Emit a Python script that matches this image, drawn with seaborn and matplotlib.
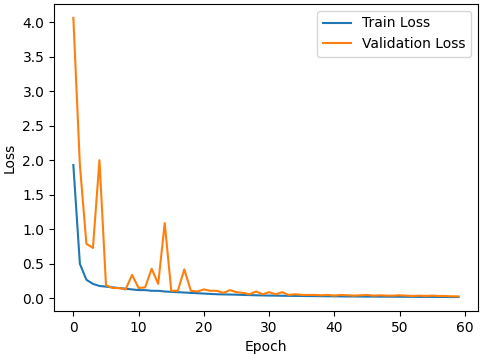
import numpy as np
import pandas as pd
import matplotlib
matplotlib.use("Agg")
import matplotlib.pyplot as plt
import seaborn as sns

epochs = list(range(60))
train_loss = [1.93, 0.50, 0.27, 0.21, 0.18, 0.17, 0.16, 0.15, 0.14, 0.13,
              0.12, 0.12, 0.11, 0.11, 0.10, 0.095, 0.09, 0.085, 0.08, 0.075,
              0.07, 0.065, 0.06, 0.058, 0.056, 0.054, 0.05, 0.048, 0.045, 0.043,
              0.041, 0.04, 0.038, 0.037, 0.036, 0.035, 0.034, 0.033, 0.032, 0.031,
              0.03, 0.029, 0.028, 0.028, 0.027, 0.026, 0.026, 0.025, 0.025, 0.024,
              0.024, 0.023, 0.023, 0.022, 0.022, 0.022, 0.021, 0.021, 0.02, 0.02]
val_loss = [4.06, 1.93, 0.79, 0.73, 2.00, 0.19, 0.15, 0.15, 0.13, 0.34,
            0.15, 0.16, 0.43, 0.21, 1.09, 0.11, 0.11, 0.42, 0.11, 0.10,
            0.13, 0.11, 0.11, 0.08, 0.12, 0.09, 0.08, 0.06, 0.10, 0.06,
            0.09, 0.06, 0.09, 0.05, 0.06, 0.05, 0.05, 0.05, 0.045, 0.05,
            0.04, 0.05, 0.045, 0.04, 0.045, 0.05, 0.04, 0.045, 0.04, 0.04,
            0.045, 0.04, 0.035, 0.04, 0.035, 0.04, 0.035, 0.035, 0.03, 0.03]

df = pd.DataFrame({"Epoch": epochs * 2,
                   "Loss": train_loss + val_loss,
                   "Series": ["Train Loss"] * 60 + ["Validation Loss"] * 60})

fig, ax = plt.subplots(figsize=(4.83, 3.55), dpi=100)
sns.lineplot(data=df, x="Epoch", y="Loss", hue="Series", ax=ax,
             palette=["#1f77b4", "#ff7f0e"], linewidth=1.5)
ax.legend(title=None, loc="upper right")
ax.set_xlabel("Epoch")
ax.set_ylabel("Loss")
fig.subplots_adjust(left=0.112, right=0.989, top=0.989, bottom=0.124)
fig.savefig("out.png", dpi=100)
